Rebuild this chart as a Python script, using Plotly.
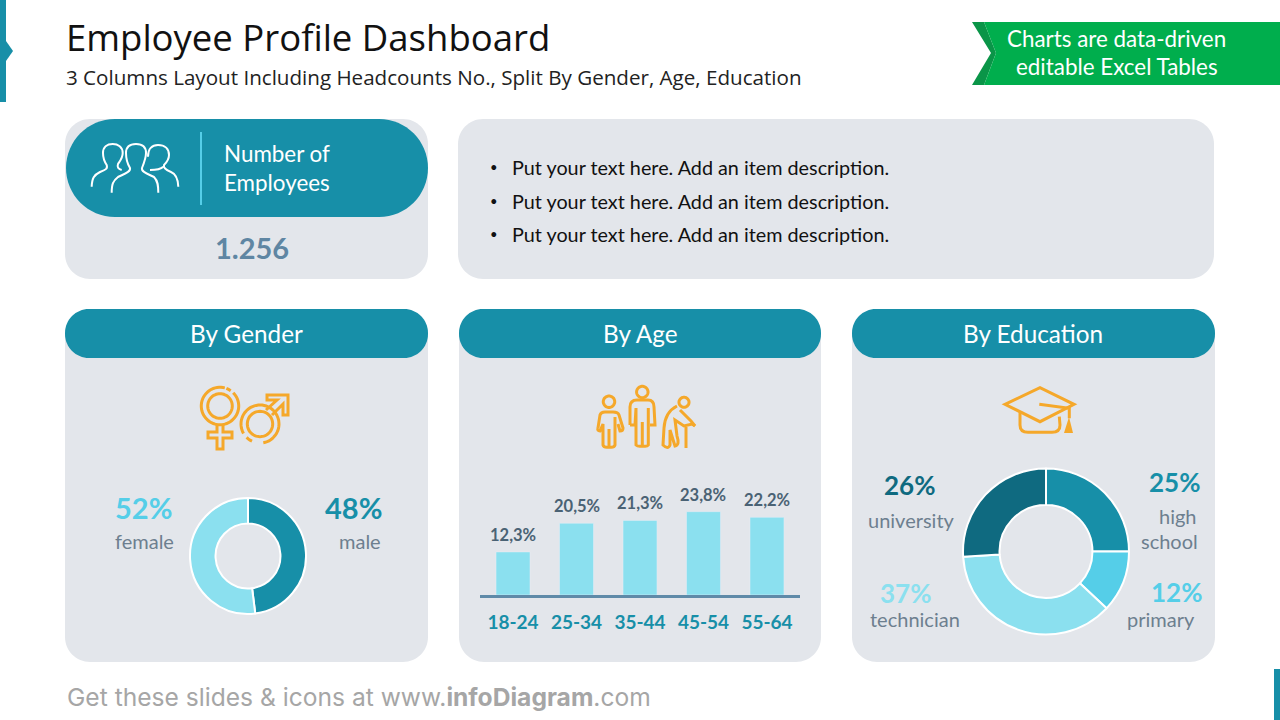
import math
import plotly.graph_objects as go

# data
gender_labels = ["male", "female"]
gender_values = [48, 52]
age_groups = ["18-24", "25-34", "35-44", "45-54", "55-64"]
age_values = [12.3, 20.5, 21.3, 23.8, 22.2]
edu_labels = ["high school", "primary", "technician", "university"]
edu_values = [25, 12, 37, 26]
employees = "1.256"
bullets = ["Put your text here. Add an item description."] * 3

TEAL = "#178fa8"
DARK = "#0f6a80"
CYAN = "#55cee8"
LIGHT = "#8be0ef"
PANEL = "#e3e6eb"
ORANGE = "#f5a82a"
GREY = "#6d7f8f"
SLATE = "#4a6274"
W, H = 1280, 720

BODY = "Lato"
HEAD = "Open Sans"

shapes = []
notes = []


def rrect(x0, y0, x1, y1, r, fill):
    k = r * 0.448  # bezier handle for a round corner
    p = (f"M{x0+r},{y0} L{x1-r},{y0} C{x1-k},{y0} {x1},{y0+k} {x1},{y0+r} L{x1},{y1-r} C{x1},{y1-k} {x1-k},{y1} {x1-r},{y1} "
         f"L{x0+r},{y1} C{x0+k},{y1} {x0},{y1-k} {x0},{y1-r} L{x0},{y0+r} C{x0},{y0+k} {x0+k},{y0} {x0+r},{y0} Z")
    shapes.append(dict(type="path", path=p, fillcolor=fill, line_width=0, xref="x", yref="y", layer="below"))


def poly(pts, fill):
    p = "M" + " L".join(f"{x},{y}" for x, y in pts) + " Z"
    shapes.append(dict(type="path", path=p, fillcolor=fill, line_width=0, xref="x", yref="y", layer="below"))


def stroke(p, color=ORANGE, width=3):
    shapes.append(dict(type="path", path=p, line=dict(color=color, width=width), xref="x", yref="y", layer="below"))


def arc(cx, cy, r, a0, a1):
    # plotly paths have no arc command so a circle is many short lines (degrees, clockwise from east)
    n = max(int(abs(a1 - a0) / 6), 2)
    pts = []
    for i in range(n + 1):
        a = math.radians(a0 + (a1 - a0) * i / n)
        pts.append(f"{cx + r*math.cos(a):.1f},{cy + r*math.sin(a):.1f}")
    return "M" + " L".join(pts)


def text(x, y, s, size, color, font=BODY, anchor="center", bold=False):
    if bold:
        s = f"<b>{s}</b>"
    # annotations sit a little low and right of the asked position
    if anchor == "left":
        x -= 2
    notes.append(dict(x=x, y=y - 1, xref="x", yref="y", text=s, showarrow=False, xanchor=anchor, yanchor="middle",
                      font=dict(family=font, size=size, color=color)))


# slide furniture
rrect(0, 0, 6, 102, 0, TEAL)
poly([(6, 41), (13, 51), (6, 61)], TEAL)
rrect(1274, 669, 1280, 720, 0, TEAL)
poly([(972, 22), (984, 22), (996, 53), (984, 85), (972, 85), (991, 53)], "#0a9548")
poly([(984, 22), (1280, 22), (1280, 85), (984, 85), (996, 53)], "#00ae4d")

# panels
rrect(65, 119, 428, 279, 25, PANEL)
rrect(458, 119, 1214, 279, 25, PANEL)
rrect(66, 119, 428, 217, 49, TEAL)
for x0, x1 in [(65, 428), (459, 821), (852, 1215)]:
    rrect(x0, 309, x1, 662, 25, PANEL)
    rrect(x0, 309, x1, 358, 24, TEAL)
shapes.append(dict(type="line", x0=201, x1=201, y0=132, y1=205, line=dict(color=CYAN, width=2), xref="x", yref="y", layer="below"))

# people icon
stroke("M111.7,192.7 C111.7,184 113,181 118,177 C124,174 131,172 130,168 C127,163 126,158 126,153 C126,147 130,144 136,144 "
       "C142,144 146,147 146,153 C146,158 144,163 142,168 C141,172 148,174 154,177 C158,181 158.3,186 158.3,192.7", "white", 2)
stroke("M91.7,186.7 C92,178 94,175 100,172 C105,170 108,169 106.7,165 C104,161 103,157 103,153 C103,147 107,144 112.7,144 "
       "C118,144 122.7,147 122.7,153 C122.7,158 120,161 118,164 C117,167 118,169 121.7,170", "white", 2)
stroke("M148,156.7 C148,149 152,145 158,145 C165,145 169,149 169,155 C169,160 166,163 164,165 C163,168 166,170 171,172 "
       "C176,174 178,179 178.3,186.7", "white", 2)
stroke("M163.3,166.7 C160,170 155,170 150,170", "white", 2)

# gender icon
stroke(arc(220, 406, 18.7, -45, 285))
stroke(arc(220, 406, 18.7, -70, -55))
stroke(arc(220, 406, 12.3, 0, 360))
stroke("M217,425 L217,432 L208,432 L208,438 L217,438 L217,449 L223,449 L223,438 L232,438 L232,432 L223,432 L223,425")
stroke(arc(260, 424, 19, 150, 440))
stroke(arc(260, 424, 19, 115, 135))
stroke(arc(260, 424, 12.7, 0, 360))
stroke("M266,410 L277,400 L267,400 L267,395 L288,395 L288,415 L283,415 L283,404 L272,415")

# age icon
stroke(arc(609, 401.7, 5.7, 0, 360))
stroke("M598,428 L600,415 Q601,412 605,412 L613,412 Q618,412 619,415 L623,428 Q623,431 620,431 L618,424")
stroke("M598,428 Q597,431 600,431 L603,424 L603,445 Q604,448 609,447 L609,429 L609,447 Q614,448 615,445 L615,417")
stroke(arc(642.3, 392, 5.7, 0, 360))
stroke("M630,425 L630,407 Q630,400 637,400 L648,400 Q654,400 654,407 L655,425 L650,425")
stroke("M630,425 L635,425 L636,408 L636,445 Q638,447 642.3,446 L642.3,422 L642.3,446 Q647,447 648.3,445 L648.3,408")
stroke(arc(684, 402.3, 5, 0, 360))
stroke("M677,406 Q665,412 664,428 L663,445 Q668,450 670,445 L670,430 L675,446 Q680,445 677,436 L675,420 L684,426 L692,424 L695,426")
stroke("M680,410 L691,421 L695,426")
stroke("M686,427 L686,448")

# cap icon
stroke("M1005,404.3 L1040,387.7 L1074,404.3 L1040,421.7 Z")
stroke("M1039.3,404.3 L1069.3,408.3 L1069.3,418.3")
stroke("M1020,412.3 L1020,425 Q1020,432.3 1028,432.3 L1052,432.3 Q1060,432.3 1060,425 L1059.3,416.7")
poly([(1069, 417), (1064, 433), (1073, 433)], ORANGE)

# texts
text(66, 38, "Employee Profile Dashboard", 36.5, "#111111", HEAD, "left")
text(66, 78, "3 Columns Layout Including Headcounts No., Split By Gender, Age, Education", 20.6, "#222222", HEAD, "left")
text(1116.5, 39, "Charts are data-driven", 22.4, "white")
text(1116.5, 67.5, "editable Excel Tables", 22.4, "white")
text(224, 154, "Number of", 22.4, "white", anchor="left")
text(224, 183, "Employees", 22.4, "white", anchor="left")
text(252, 248.5, employees, 29, "#5f86a3", bold=True)
for y, b in zip([167.5, 201.5, 234.5], bullets):
    text(494, y, "•", 13, "#111111")
    text(512, y, b, 19.8, "#111111", anchor="left")
text(246, 334, "By Gender", 24.3, "white")
text(640, 334, "By Age", 24.3, "white")
text(1033, 334, "By Education", 24.3, "white")

# gender callouts
text(143, 508.5, f"{gender_values[1]}%", 29, CYAN, bold=True)
text(144, 542, gender_labels[1], 20, GREY)
text(353, 508.5, f"{gender_values[0]}%", 29, TEAL, bold=True)
text(360, 542, gender_labels[0], 20, GREY)

# education callouts
text(909, 486, f"{edu_values[3]}%", 26, DARK, bold=True)
text(911, 521, edu_labels[3], 20, GREY)
text(1174, 483, f"{edu_values[0]}%", 26, TEAL, bold=True)
text(1178, 517, "high", 20, GREY)
text(1169, 542, "school", 20, GREY)
text(905, 594, f"{edu_values[2]}%", 26, LIGHT, bold=True)
text(915, 620, edu_labels[2], 20, GREY)
text(1176, 593, f"{edu_values[1]}%", 26, CYAN, bold=True)
text(1161, 620, edu_labels[1], 20, GREY)

# footer
text(67, 698, "Get these slides &amp; icons at www.<b>infoDiagram</b>.com", 24.6, "#a6a6a6", "Inter", "left")

# bar value labels with a decimal comma, hung on the bar axes so they follow the values
for g, v in zip(age_groups, age_values):
    notes.append(dict(x=g, y=v, xref="x2", yref="y2", text=f"<b>{v:.1f}%</b>".replace(".", ","), showarrow=False,
                      xanchor="center", yanchor="bottom", yshift=5,
                      font=dict(family=BODY, size=16.5, color=SLATE)))


def pie_domain(cx, cy, r):
    return dict(x=[(cx - r) / W, (cx + r) / W], y=[1 - (cy + r) / H, 1 - (cy - r) / H])


fig = go.Figure()
fig.add_trace(go.Pie(labels=gender_labels, values=gender_values, hole=0.56, sort=False, direction="clockwise",
                     rotation=0, textinfo="none", showlegend=False, domain=pie_domain(248, 556, 58),
                     marker=dict(colors=[TEAL, LIGHT], line=dict(color="white", width=2))))
fig.add_trace(go.Pie(labels=edu_labels, values=edu_values, hole=0.56, sort=False, direction="clockwise",
                     rotation=0, textinfo="none", showlegend=False, domain=pie_domain(1046, 551.5, 83),
                     marker=dict(colors=[TEAL, CYAN, LIGHT, DARK], line=dict(color="white", width=2))))
fig.add_trace(go.Bar(x=age_groups, y=age_values, xaxis="x2", yaxis="y2", width=0.535, marker_color=LIGHT,
                     textposition="none", showlegend=False))

fig.update_layout(
    width=W, height=H, margin=dict(l=0, r=0, t=0, b=0),
    paper_bgcolor="white", plot_bgcolor="rgba(0,0,0,0)",
    shapes=shapes, annotations=notes,
    xaxis=dict(range=[0, W], domain=[0, 1], visible=False, fixedrange=True),
    yaxis=dict(range=[H, 0], domain=[0, 1], visible=False, fixedrange=True),
    xaxis2=dict(domain=[480 / W, 800 / W], anchor="y2", range=[-0.52, 4.52], showgrid=False, showline=True,
                linecolor="#5f8aa8", linewidth=3, ticks="", ticklabelstandoff=8, fixedrange=True,
                tickfont=dict(family=BODY, size=19, color=TEAL, weight="bold")),
    yaxis2=dict(domain=[(H - 595) / H, (H - 490) / H], anchor="x2", range=[0, 30], visible=False, fixedrange=True),
)

fig.write_html("out.html", config=dict(displayModeBar=False),
               post_script="document.body.style.margin='0';document.body.style.overflow='hidden';")
